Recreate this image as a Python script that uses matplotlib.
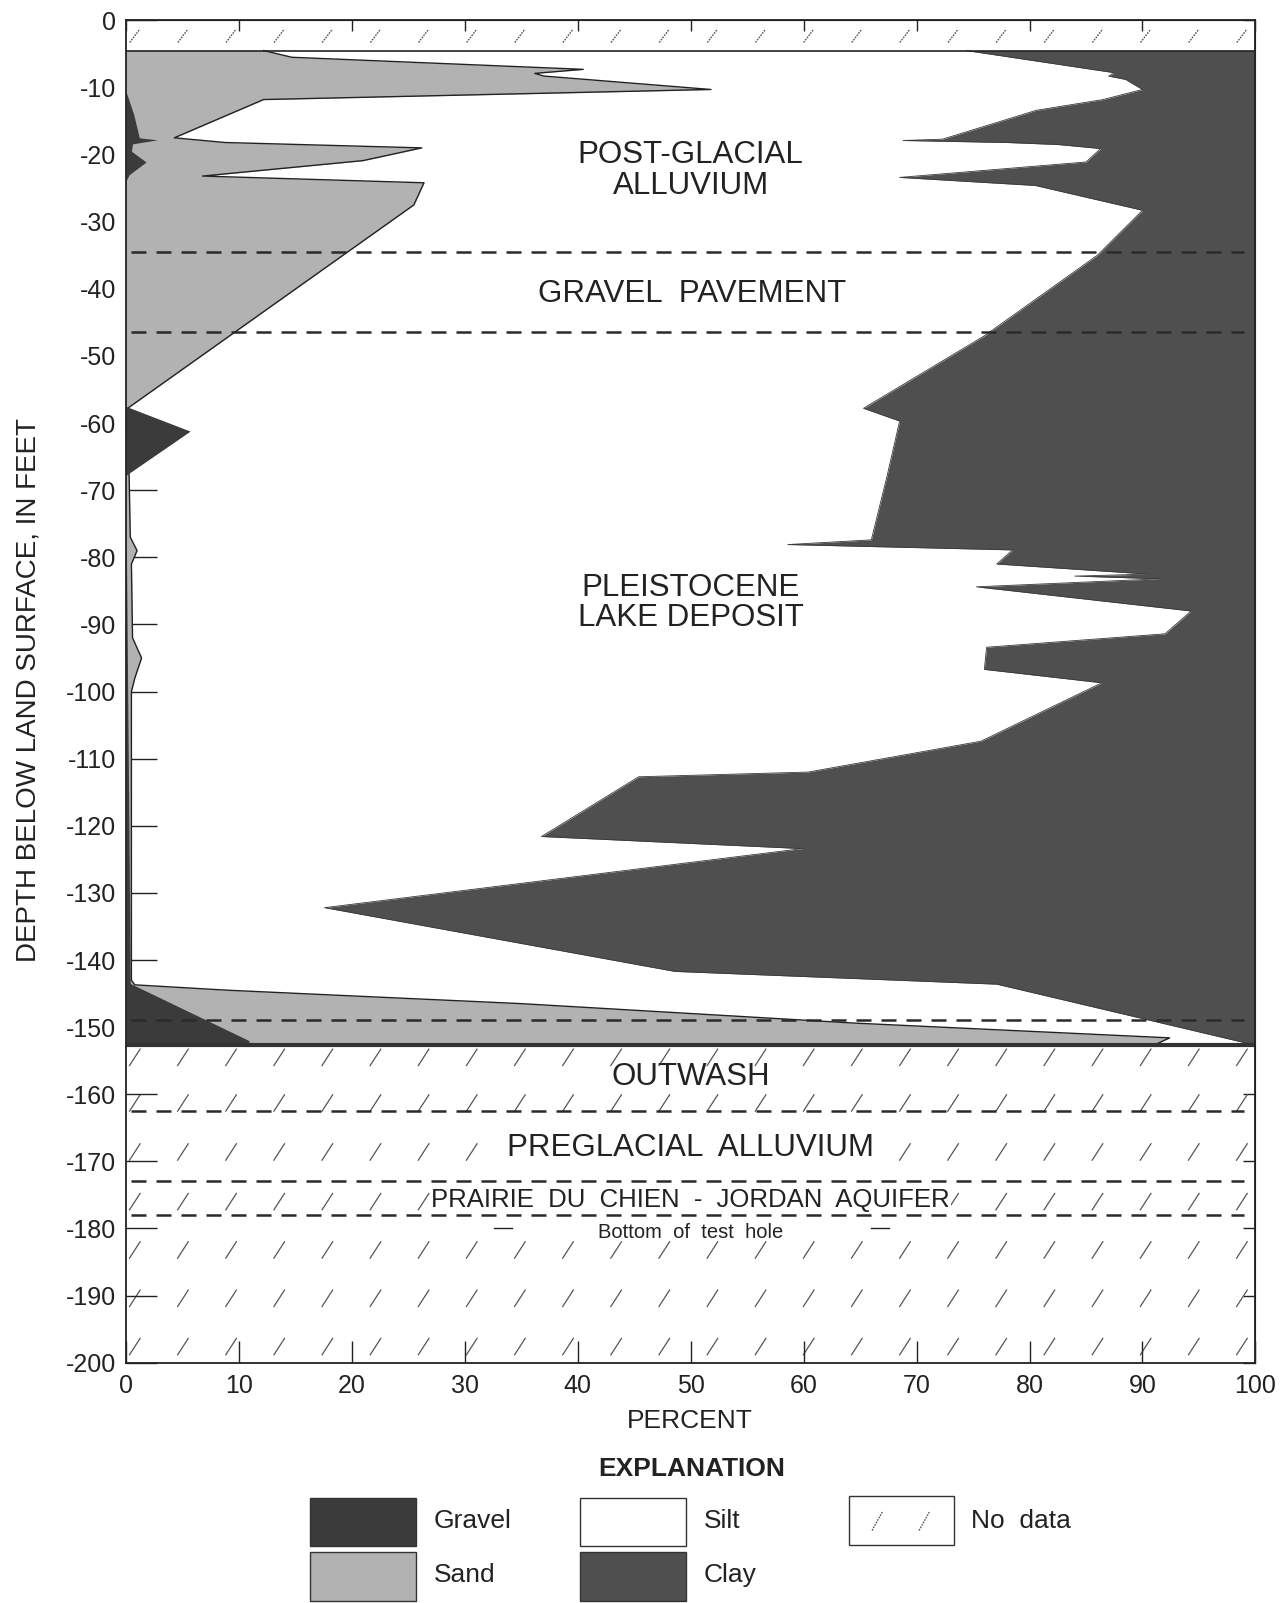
import numpy as np
import matplotlib
matplotlib.use("Agg")
import matplotlib.pyplot as plt
from matplotlib.patches import Rectangle
from matplotlib.collections import LineCollection

plt.rcParams['font.family'] = ['Liberation Sans', 'DejaVu Sans']

# ---------------- data (depth in feet below land surface, negative) ----------------
# cumulative percent: gravel
gravel_depth = [-4.5, -10.5, -14, -17.5, -17.8, -18.4, -19.5, -21.1, -23, -24,
                -57.5, -61.2, -67.8, -143.5, -152.0, -152.7]
gravel_cum = [0, 0, 0.7, 1.2, 2.8, 0.6, 0.5, 1.8, 0.3, 0,
              0, 5.7, 0, 0.4, 10.9, 10.9]

# cumulative percent: gravel + sand
sand_depth = [-4.5, -5.5, -7.3, -7.9, -8.3, -10.3, -11.8, -17.5, -18.2, -19.0,
              -20.9, -23.2, -24.2, -27.5, -58.0, -68, -77, -79, -81, -92,
              -95, -98, -100, -143, -143.7, -144.5, -146.5, -149.4, -151.6, -152.7]
sand_cum = [12.2, 14.7, 40.5, 36.2, 37.0, 51.8, 12.2, 4.3, 8.8, 26.2,
            21.0, 6.8, 26.4, 25.5, 0, 0.3, 0.4, 1.0, 0.5, 0.6,
            1.4, 0.8, 0.5, 0.5, 0.8, 9.0, 35.0, 64.5, 92.4, 91.0]

# cumulative percent: gravel + sand + silt (remainder is clay)
silt_depth = [-4.5, -7.8, -8.3, -8.8, -10.3, -11.8, -13.4, -17.7, -17.9, -18.2,
              -18.5, -19.1, -21.1, -23.4, -23.9, -24.6, -28.3, -35, -47, -57.8,
              -59.7, -67.8, -77.4, -78.1, -78.9, -81.0, -82.5, -82.8, -83.2, -84.4,
              -88.0, -91.4, -93.4, -96.7, -98.7, -107.4, -112.0, -112.7, -121.6, -123.4,
              -132.2, -141.7, -143.6, -152.7]
silt_cum = [74.4, 87.5, 87.0, 88.5, 90.0, 86.5, 80.6, 72.3, 68.8, 78.0,
            82.5, 86.3, 85.0, 68.5, 73.5, 80.5, 90.0, 86.0, 76.0, 65.3,
            68.5, 67.4, 66.0, 58.6, 78.5, 77.1, 90.5, 84.0, 91.6, 75.3,
            94.3, 92.0, 76.2, 76.0, 86.4, 75.7, 60.4, 45.4, 36.8, 59.9,
            17.6, 48.6, 77.1, 100.0]

unit_boundaries = [-34.5, -46.5, -149.0, -162.5, -173.0, -178.0]
bottom_of_hole = -180.0

y_ticks = list(range(0, -201, -10))
x_ticks = list(range(0, 101, 10))

# ---------------- style ----------------
GRAVEL_C = '#3b3b3b'
SAND_C = '#b2b2b2'
CLAY_C = '#4f4f4f'
INK = '#222222'
MARK_C = '#555555'

fig = plt.figure(figsize=(12.82, 16.03), dpi=100)
ax = fig.add_axes([0.0981, 0.1499, 0.8812, 0.8374])
ax.set_xlim(0, 100)
ax.set_ylim(-200, 0)

# areas
ax.fill_betweenx(silt_depth, silt_cum, 100, color=CLAY_C, lw=0, zorder=2)
ax.fill_betweenx(sand_depth, 0, sand_cum, color=SAND_C, lw=0, zorder=3)
ax.plot(sand_cum, sand_depth, color=INK, lw=1.0, zorder=4)
ax.fill_betweenx(gravel_depth, 0, gravel_cum, color=GRAVEL_C, lw=0, zorder=5)
ax.plot(silt_cum, silt_depth, color='#3a3a3a', lw=0.6, zorder=4)

# top/bottom of data
ax.axhline(silt_depth[0], color=INK, lw=1.2, zorder=6)
ax.axhline(silt_depth[-1], color='#333333', lw=3.0, zorder=6)

# "no data" slash marks
mark_x = np.linspace(0.8, 98.8, 24)
top_rows = [-2.3]
bottom_rows = [-154.5, -161.3, -168.6, -176.0, -183.2, -190.4, -197.6]
segs_top = [[(x - 0.45, y - 1.0), (x + 0.45, y + 1.0)] for y in top_rows for x in mark_x]
segs_bot = [[(x - 0.5, y - 1.3), (x + 0.5, y + 1.3)] for y in bottom_rows for x in mark_x]
ax.add_collection(LineCollection(segs_top, colors=MARK_C, linewidths=1.0,
                                 linestyles=(0, (1.2, 0.8)), zorder=1))
ax.add_collection(LineCollection(segs_bot, colors=MARK_C, linewidths=0.9, zorder=1))

# formation boundaries
for yb in unit_boundaries:
    ax.plot([0.5, 99.0], [yb, yb], color='#2a2a2a', lw=1.8, dashes=(6, 4), zorder=8)

# bottom of test hole markers
ax.plot([32.6, 34.2], [bottom_of_hole, bottom_of_hole], color=INK, lw=1.0, zorder=8)
ax.plot([66.0, 67.6], [bottom_of_hole, bottom_of_hole], color=INK, lw=1.0, zorder=8)

# unit labels
big = 22.5
ax.text(50, -20.0, 'POST-GLACIAL', ha='center', va='center', fontsize=big, color=INK, zorder=9)
ax.text(50, -24.7, 'ALLUVIUM', ha='center', va='center', fontsize=big, color=INK, zorder=9)
ax.text(50.1, -40.8, 'GRAVEL  PAVEMENT', ha='center', va='center', fontsize=big, color=INK, zorder=9)
ax.text(50, -84.5, 'PLEISTOCENE', ha='center', va='center', fontsize=big, color=INK, zorder=9)
ax.text(50, -89.1, 'LAKE DEPOSIT', ha='center', va='center', fontsize=big, color=INK, zorder=9)
ax.text(50, -157.4, 'OUTWASH', ha='center', va='center', fontsize=big, color=INK, zorder=7)
ax.text(50, -168.0, 'PREGLACIAL  ALLUVIUM', ha='center', va='center', fontsize=big, color=INK,
        zorder=7, bbox=dict(facecolor='white', edgecolor='none', pad=1.5))
ax.text(50, -175.8, 'PRAIRIE  DU  CHIEN  -  JORDAN  AQUIFER', ha='center', va='center',
        fontsize=18.5, color=INK, zorder=7, bbox=dict(facecolor='white', edgecolor='none', pad=1.0))
ax.text(50, -180.6, 'Bottom  of  test  hole', ha='center', va='center', fontsize=14.5,
        color=INK, zorder=7)

# ticks
ax.set_yticks(y_ticks)
ax.set_yticklabels([str(t) for t in y_ticks])
ax.set_xticks(x_ticks)
ax.set_xticklabels([str(t) for t in x_ticks])
ax.tick_params(axis='y', direction='in', length=22, width=1.0, left=True, right=False,
               labelsize=18, pad=7, color=INK, labelcolor=INK)
ax.tick_params(axis='x', direction='in', length=16, width=1.0, bottom=True, top=False,
               labelsize=18, pad=8, color=INK, labelcolor=INK)
for sp in ax.spines.values():
    sp.set_linewidth(1.3)
    sp.set_color(INK)
    sp.set_zorder(10)

ry = ax.secondary_yaxis('right')
ry.set_yticks(y_ticks)
ry.tick_params(direction='in', length=9, width=1.0, labelright=False, color=INK)
tx = ax.secondary_xaxis('top')
tx.set_xticks(x_ticks)
tx.tick_params(direction='in', length=8, width=1.0, labeltop=False, color=INK)

fig.text(0.0225, 0.5695, 'DEPTH BELOW LAND SURFACE, IN FEET', rotation=90,
         ha='center', va='center', fontsize=20, color=INK)
fig.text(0.5383, 0.1135, 'PERCENT', ha='center', va='center', fontsize=19, color=INK)

# ---------------- explanation ----------------
lax = fig.add_axes([0, 0, 1, 1])
lax.set_xlim(0, 1254)
lax.set_ylim(1568, 0)
lax.axis('off')
lax.text(677, 1437, 'EXPLANATION', ha='center', va='center', fontsize=19,
         fontweight='bold', color=INK)
boxes = [((303, 1465), GRAVEL_C, 'Gravel'), ((303, 1518), SAND_C, 'Sand'),
         ((567, 1465), 'white', 'Silt'), ((567, 1518), CLAY_C, 'Clay')]
for (bx, by), fc, lab in boxes:
    h = 47 if by < 1500 else 48
    lax.add_patch(Rectangle((bx, by), 104, h, facecolor=fc, edgecolor='#333333', lw=1.0))
    lax.text(bx + 121, by + 23, lab, ha='left', va='center', fontsize=19, color=INK)
lax.add_patch(Rectangle((830, 1463), 103, 48, facecolor='white', edgecolor='#333333', lw=1.0))
for mx in (858, 904):
    lax.plot([mx - 5, mx + 5], [1497, 1479], color=MARK_C, lw=1.0, ls=(0, (1.2, 0.8)))
lax.text(950, 1488, 'No  data', ha='left', va='center', fontsize=19, color=INK)

fig.savefig('out.png', dpi=100)
